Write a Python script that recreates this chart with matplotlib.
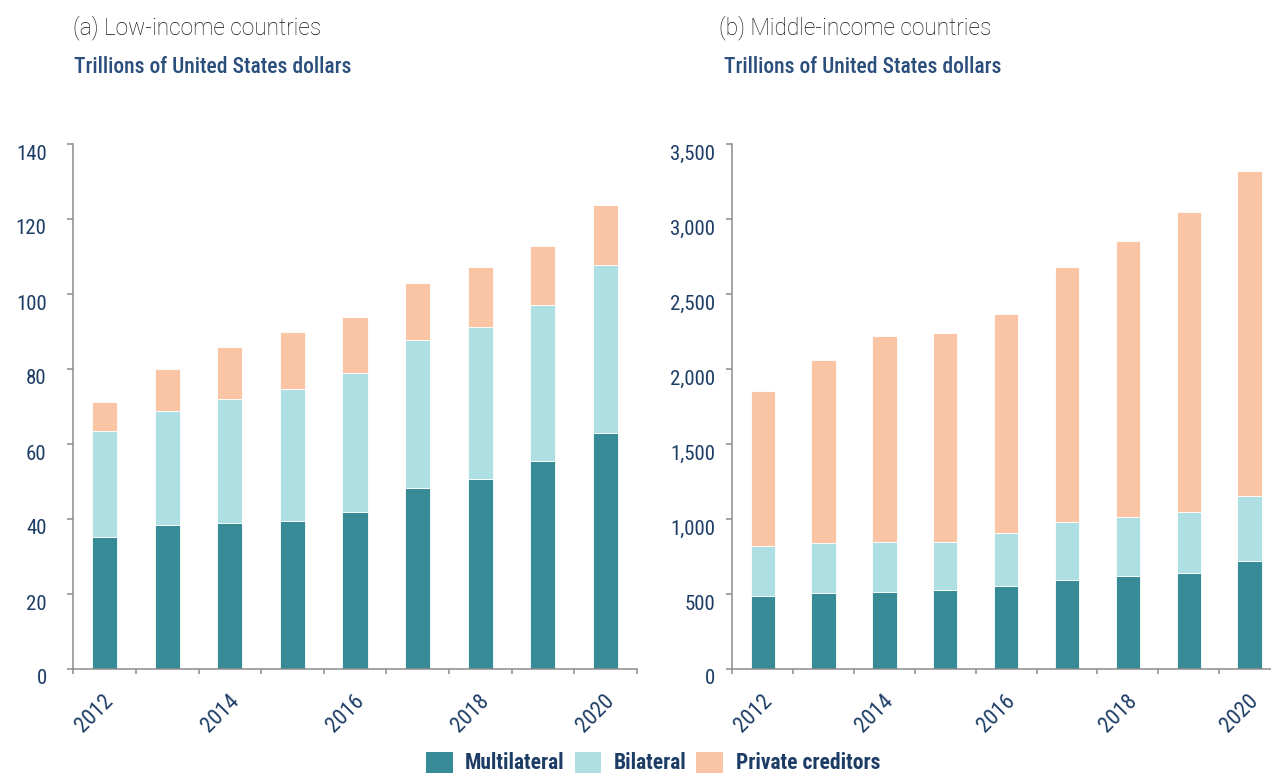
import numpy as np
import matplotlib
matplotlib.use("Agg")
import matplotlib.pyplot as plt
import matplotlib.transforms as mtransforms
from matplotlib.patches import Patch
from matplotlib.ticker import FuncFormatter

# data
years = [2012, 2013, 2014, 2015, 2016, 2017, 2018, 2019, 2020]
series = ["Multilateral", "Bilateral", "Private creditors"]

low_multilateral = [35.2, 38.4, 39.0, 39.6, 42.0, 48.3, 50.8, 55.5, 63.0]
low_bilateral = [28.2, 30.4, 32.9, 35.1, 36.9, 39.4, 40.5, 41.7, 44.8]
low_private = [7.8, 11.1, 14.0, 15.3, 15.0, 15.3, 15.8, 15.6, 15.9]

mid_multilateral = [487, 509, 515, 527, 551, 595, 617, 642, 722]
mid_bilateral = [333, 328, 329, 322, 353, 387, 398, 407, 431]
mid_private = [1035, 1225, 1374, 1391, 1463, 1698, 1838, 2000, 2167]

titles = ["(a) Low-income countries", "(b) Middle-income countries"]
unit_label = "Trillions of United States dollars"

colors = ["#378B97", "#AEDFE3", "#FAC5A5"]
navy = "#1D3D66"
sub_navy = "#2B4F7C"
spine_gray = "#8C8C8C"

COND = ["Roboto Condensed", "Liberation Sans Narrow", "Roboto", "DejaVu Sans"]
REG = ["Roboto", "DejaVu Sans"]

fig = plt.figure(figsize=(12.71, 7.74), dpi=100)
W, H = 1271, 774


def px_axes(x0, x1, ytop, ybot):
    return fig.add_axes([x0 / W, 1 - ybot / H, (x1 - x0) / W, (ybot - ytop) / H])


ax_low = px_axes(73.3, 636.7, 144, 669)
ax_mid = px_axes(732.3, 1280.0, 144, 669)


def draw_panel(ax, stacks, ymax, ystep, fmt, ypad):
    x = np.arange(len(years))
    bottom = np.zeros(len(years))
    for vals, col in zip(stacks, colors):
        ax.bar(x, vals, width=0.4, bottom=bottom, color=col,
               edgecolor="white", linewidth=0.6, zorder=2)
        bottom = bottom + np.array(vals)

    ax.set_xlim(-0.5, len(years) - 0.5)
    ax.set_ylim(0, ymax)
    for side in ["top", "right"]:
        ax.spines[side].set_visible(False)
    for side in ["left", "bottom"]:
        ax.spines[side].set_color(spine_gray)
        ax.spines[side].set_linewidth(1.1)

    # boundary ticks on x, labels every other year
    ax.set_xticks(np.arange(len(years) + 1) - 0.5)
    ax.set_xticklabels([])
    ax.tick_params(axis="x", which="major", length=3.6, width=1.1,
                   color=spine_gray)
    lab_idx = x[::2]
    ax.set_xticks(lab_idx, minor=True)
    ax.set_xticklabels([str(years[i]) for i in lab_idx], minor=True,
                       rotation=45, ha="right", va="center",
                       rotation_mode="anchor", fontsize=16,
                       color=navy, family=COND)
    ax.tick_params(axis="x", which="minor", length=0, pad=21)
    dx = mtransforms.ScaledTranslation(6 / 100, 0, fig.dpi_scale_trans)
    for lab in ax.get_xticklabels(minor=True):
        lab.set_transform(lab.get_transform() + dx)

    ax.set_yticks(np.arange(0, ymax + 1, ystep))
    ax.yaxis.set_major_formatter(FuncFormatter(fmt))
    ax.tick_params(axis="y", length=4, width=1.1, color=spine_gray,
                   labelsize=15, labelcolor=navy, pad=ypad)
    dy = mtransforms.ScaledTranslation(0, -8 / 100, fig.dpi_scale_trans)
    for lab in ax.get_yticklabels():
        lab.set_family(COND)
        lab.set_transform(lab.get_transform() + dy)


draw_panel(ax_low, [low_multilateral, low_bilateral, low_private],
           140, 20, lambda v, p: f"{v:.0f}", 15.2)
draw_panel(ax_mid, [mid_multilateral, mid_bilateral, mid_private],
           3500, 500, lambda v, p: f"{v:,.0f}", 8.2)

# titles and unit labels
for xt, xs, t in [(73.3, 74, titles[0]), (719.3, 724.3, titles[1])]:
    fig.text(xt / W, 1 - 34.3 / H, t, fontsize=16.3, fontweight="light",
             color="#111111", family=REG, va="baseline", ha="left")
    fig.text(xs / W, 1 - 73.3 / H, unit_label, fontsize=15.5,
             fontweight="medium", color=sub_navy, family=COND,
             va="baseline", ha="left")

handles = [Patch(facecolor=c, edgecolor="none") for c in colors]
fig.legend(handles, series, loc="center", bbox_to_anchor=(653 / W, 1 - 763 / H),
           ncol=3, frameon=False,
           prop={"family": COND, "weight": "bold", "size": 15.5},
           handlelength=1.24, handleheight=1.12, handletextpad=0.59,
           columnspacing=0.45, borderpad=0, borderaxespad=0)
for txt in fig.legends[0].get_texts():
    txt.set_color(navy)

fig.savefig("out.png", dpi=100)
